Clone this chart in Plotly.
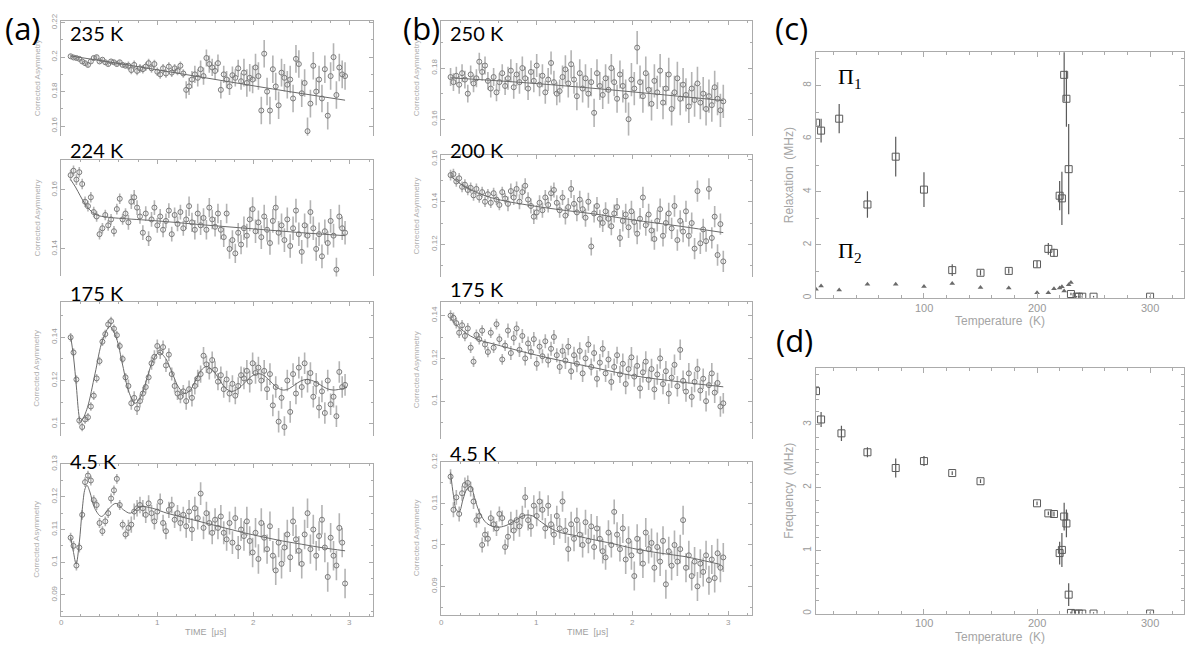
import plotly.graph_objects as go

# ---------------- data ----------------
TIME_US = [0.10, 0.13, 0.16, 0.19, 0.22, 0.25, 0.28, 0.31, 0.34, 0.37,
           0.40, 0.43, 0.46, 0.49, 0.52, 0.55, 0.58, 0.61, 0.64, 0.67,
           0.70, 0.73, 0.76, 0.79, 0.82, 0.85, 0.88, 0.91, 0.94, 0.97,
           1.00, 1.03, 1.06, 1.09, 1.12, 1.15, 1.18, 1.21, 1.24, 1.27,
           1.30, 1.33, 1.36, 1.39, 1.42, 1.45, 1.48, 1.51, 1.54, 1.57,
           1.60, 1.63, 1.66, 1.69, 1.72, 1.75, 1.78, 1.81, 1.84, 1.87,
           1.90, 1.93, 1.96, 1.99, 2.02, 2.05, 2.08, 2.11, 2.14, 2.17,
           2.20, 2.23, 2.26, 2.29, 2.32, 2.35, 2.38, 2.41, 2.44, 2.47,
           2.50, 2.53, 2.56, 2.59, 2.62, 2.65, 2.68, 2.71, 2.74, 2.77,
           2.80, 2.83, 2.86, 2.89, 2.92, 2.95]

A_235K = [0.2005, 0.1998, 0.1995, 0.1990, 0.1975, 0.1965, 0.1955, 0.1975, 0.1995, 0.2000,
          0.1975, 0.1985, 0.1970, 0.1960, 0.1975, 0.1970, 0.1960, 0.1970, 0.1955, 0.1950,
          0.1950, 0.1925, 0.1955, 0.1920, 0.1935, 0.1930, 0.1945, 0.1965, 0.1935, 0.1960,
          0.1915, 0.1900, 0.1935, 0.1905, 0.1945, 0.1910, 0.1935, 0.1920, 0.1950, 0.1905,
          0.1810, 0.1830, 0.1870, 0.1900, 0.1880, 0.1930, 0.1890, 0.1995, 0.1960, 0.1940,
          0.1920, 0.1965, 0.1810, 0.1900, 0.1870, 0.1830, 0.1895, 0.1880, 0.1935, 0.1860,
          0.1910, 0.1850, 0.1880, 0.1870, 0.1940, 0.1890, 0.1690, 0.2020, 0.1800, 0.1690,
          0.1930, 0.1830, 0.1720, 0.1910, 0.1880, 0.1840, 0.1870, 0.1760, 0.1990, 0.1960,
          0.1790, 0.1850, 0.1570, 0.1730, 0.1950, 0.1800, 0.1870, 0.1760, 0.1930, 0.1660,
          0.1890, 0.2000, 0.1780, 0.1940, 0.1900, 0.1890]
A_224K = [0.1650, 0.1665, 0.1635, 0.1660, 0.1620, 0.1560, 0.1545, 0.1575, 0.1525, 0.1510,
          0.1450, 0.1470, 0.1515, 0.1480, 0.1500, 0.1460, 0.1535, 0.1570, 0.1500, 0.1520,
          0.1490, 0.1560, 0.1575, 0.1540, 0.1510, 0.1455, 0.1520, 0.1435, 0.1500, 0.1540,
          0.1480, 0.1510, 0.1465, 0.1495, 0.1530, 0.1450, 0.1515, 0.1485, 0.1525, 0.1470,
          0.1500, 0.1545, 0.1490, 0.1465, 0.1520, 0.1480, 0.1505, 0.1465, 0.1540, 0.1500,
          0.1475, 0.1520, 0.1465, 0.1440, 0.1520, 0.1400, 0.1430, 0.1385, 0.1455, 0.1415,
          0.1470, 0.1445, 0.1500, 0.1535, 0.1460, 0.1490, 0.1440, 0.1510, 0.1465, 0.1420,
          0.1495, 0.1540, 0.1455, 0.1480, 0.1430, 0.1500, 0.1410, 0.1470, 0.1530, 0.1450,
          0.1390, 0.1480, 0.1445, 0.1525, 0.1470, 0.1400, 0.1450, 0.1375, 0.1460, 0.1420,
          0.1495, 0.1445, 0.1330, 0.1510, 0.1470, 0.1455]
A_175K = [0.1400, 0.1330, 0.1205, 0.1015, 0.0985, 0.1020, 0.1030, 0.1080, 0.1130, 0.1210,
          0.1290, 0.1380, 0.1415, 0.1460, 0.1475, 0.1440, 0.1410, 0.1360, 0.1300, 0.1215,
          0.1175, 0.1095, 0.1120, 0.1070, 0.1105, 0.1140, 0.1170, 0.1215, 0.1280, 0.1310,
          0.1360, 0.1330, 0.1355, 0.1270, 0.1320, 0.1230, 0.1175, 0.1140, 0.1125, 0.1150,
          0.1105, 0.1160, 0.1120, 0.1175, 0.1210, 0.1230, 0.1315, 0.1275, 0.1245, 0.1295,
          0.1250, 0.1195, 0.1225, 0.1160, 0.1205, 0.1140, 0.1185, 0.1130, 0.1175, 0.1225,
          0.1210, 0.1245, 0.1195, 0.1280, 0.1235, 0.1260, 0.1200, 0.1245, 0.1160, 0.1230,
          0.1085, 0.1170, 0.1010, 0.1120, 0.0985, 0.1200, 0.1055, 0.1230, 0.1140, 0.1260,
          0.1170, 0.1280, 0.1195, 0.1235, 0.1125, 0.1185, 0.1075, 0.1150, 0.1050, 0.1200,
          0.1090, 0.1125, 0.1035, 0.1240, 0.1170, 0.1180]
A_4K5 = [0.1075, 0.1050, 0.0990, 0.1045, 0.1145, 0.1245, 0.1265, 0.1250, 0.1190, 0.1175,
         0.1120, 0.1095, 0.1125, 0.1150, 0.1195, 0.1220, 0.1255, 0.1175, 0.1115, 0.1085,
         0.1105, 0.1115, 0.1155, 0.1165, 0.1175, 0.1165, 0.1145, 0.1180, 0.1150, 0.1125,
         0.1155, 0.1185, 0.1120, 0.1095, 0.1160, 0.1175, 0.1130, 0.1150, 0.1120, 0.1145,
         0.1110, 0.1155, 0.1100, 0.1165, 0.1135, 0.1210, 0.1105, 0.1150, 0.1120, 0.1090,
         0.1130, 0.1105, 0.1140, 0.1090, 0.1070, 0.1120, 0.1060, 0.1135, 0.1045, 0.1100,
         0.1080, 0.1125, 0.1065, 0.1030, 0.1090, 0.1010, 0.1120, 0.1075, 0.1040, 0.1110,
         0.1020, 0.0975, 0.1060, 0.0995, 0.1045, 0.1085, 0.1015, 0.1125, 0.1070, 0.1035,
         0.0995, 0.1085, 0.1150, 0.1040, 0.1100, 0.1020, 0.1080, 0.1130, 0.1045, 0.0955,
         0.1075, 0.1020, 0.0990, 0.1105, 0.1060, 0.0935]
B_250K = [0.1765, 0.1745, 0.1770, 0.1735, 0.1780, 0.1755, 0.1700, 0.1775, 0.1740, 0.1760,
          0.1825, 0.1785, 0.1810, 0.1750, 0.1720, 0.1765, 0.1705, 0.1745, 0.1780, 0.1730,
          0.1760, 0.1790, 0.1725, 0.1775, 0.1745, 0.1800, 0.1760, 0.1720, 0.1785, 0.1750,
          0.1810, 0.1735, 0.1770, 0.1705, 0.1755, 0.1820, 0.1745, 0.1700, 0.1710, 0.1765,
          0.1795, 0.1740, 0.1815, 0.1755, 0.1690, 0.1780, 0.1720, 0.1760, 0.1700, 0.1745,
          0.1625, 0.1780, 0.1730, 0.1695, 0.1760, 0.1715, 0.1800, 0.1745, 0.1680, 0.1775,
          0.1730, 0.1690, 0.1600, 0.1755, 0.1720, 0.1880, 0.1745, 0.1690, 0.1780, 0.1715,
          0.1660, 0.1750, 0.1705, 0.1790, 0.1665, 0.1720, 0.1775, 0.1640, 0.1705, 0.1760,
          0.1680, 0.1735, 0.1695, 0.1650, 0.1720, 0.1675, 0.1740, 0.1665, 0.1700, 0.1640,
          0.1690, 0.1655, 0.1725, 0.1680, 0.1635, 0.1670]
B_200K = [0.1525, 0.1530, 0.1495, 0.1510, 0.1470, 0.1480, 0.1455, 0.1465, 0.1430, 0.1460,
          0.1420, 0.1445, 0.1400, 0.1435, 0.1395, 0.1440, 0.1410, 0.1385, 0.1445, 0.1415,
          0.1390, 0.1450, 0.1420, 0.1460, 0.1400, 0.1445, 0.1475, 0.1410, 0.1380, 0.1330,
          0.1350, 0.1395, 0.1360, 0.1420, 0.1385, 0.1440, 0.1455, 0.1395, 0.1360, 0.1420,
          0.1335, 0.1375, 0.1460, 0.1390, 0.1350, 0.1410, 0.1365, 0.1325, 0.1400, 0.1190,
          0.1345, 0.1380, 0.1320, 0.1300, 0.1355, 0.1320, 0.1285, 0.1345, 0.1375, 0.1230,
          0.1310, 0.1340, 0.1280, 0.1355, 0.1305, 0.1250, 0.1320, 0.1420, 0.1290, 0.1340,
          0.1265, 0.1225, 0.1310, 0.1365, 0.1240, 0.1300, 0.1345, 0.1275, 0.1380, 0.1220,
          0.1310, 0.1260, 0.1355, 0.1240, 0.1300, 0.1180, 0.1450, 0.1205, 0.1270, 0.1215,
          0.1460, 0.1230, 0.1330, 0.1150, 0.1295, 0.1120]
B_175K = [0.1400, 0.1390, 0.1365, 0.1320, 0.1355, 0.1305, 0.1340, 0.1250, 0.1185, 0.1310,
          0.1290, 0.1330, 0.1265, 0.1230, 0.1320, 0.1250, 0.1360, 0.1290, 0.1195, 0.1260,
          0.1330, 0.1225, 0.1295, 0.1340, 0.1240, 0.1305, 0.1200, 0.1270, 0.1230, 0.1290,
          0.1175, 0.1255, 0.1210, 0.1280, 0.1190, 0.1245, 0.1300, 0.1215, 0.1160, 0.1235,
          0.1190, 0.1255, 0.1140, 0.1215, 0.1175, 0.1235, 0.1130, 0.1200, 0.1265, 0.1160,
          0.1225, 0.1105, 0.1180, 0.1245, 0.1130, 0.1195, 0.1090, 0.1160, 0.1215, 0.1125,
          0.1175, 0.1080, 0.1150, 0.1205, 0.1115, 0.1165, 0.1060, 0.1135, 0.1185, 0.1100,
          0.1150, 0.1055, 0.1125, 0.1200, 0.1080, 0.1140, 0.1035, 0.1110, 0.1170, 0.1070,
          0.1240, 0.1095, 0.1045, 0.1130, 0.1020, 0.1090, 0.1150, 0.1050, 0.1105, 0.1000,
          0.1075, 0.1130, 0.1040, 0.1085, 0.0975, 0.0990]
B_4K5 = [0.1165, 0.1085, 0.1115, 0.1075, 0.1125, 0.1145, 0.1150, 0.1135, 0.1105, 0.1060,
         0.1070, 0.1000, 0.1025, 0.1015, 0.1065, 0.1050, 0.1040, 0.1075, 0.1065, 0.0995,
         0.1020, 0.1055, 0.1035, 0.1060, 0.1045, 0.1070, 0.1115, 0.1060, 0.1045, 0.1095,
         0.1070, 0.1105, 0.1085, 0.1040, 0.1095, 0.1050, 0.1025, 0.1070, 0.1040, 0.1105,
         0.1035, 0.0990, 0.1050, 0.1015, 0.1060, 0.1025, 0.1000, 0.1055, 0.1010, 0.1045,
         0.0995, 0.1040, 0.1015, 0.0985, 0.0970, 0.1030, 0.1000, 0.1080, 0.1025, 0.0990,
         0.1040, 0.0965, 0.1010, 0.0975, 0.0925, 0.1015, 0.0985, 0.0955, 0.1030, 0.0990,
         0.1005, 0.0945, 0.0995, 0.0960, 0.1010, 0.0905, 0.0985, 0.0950, 0.1000, 0.0960,
         0.0990, 0.1060, 0.0945, 0.0975, 0.0925, 0.0960, 0.0900, 0.0955, 0.0935, 0.0975,
         0.0915, 0.0965, 0.0920, 0.0980, 0.0945, 0.0970]

# error-bar half-lengths, estimated per stretch of the time window
ERR_A_235K = [0.0012] * 20 + [0.0025] * 20 + [0.005] * 20 + [0.008] * 36
ERR_A_224K = [0.0018] * 20 + [0.0025] * 20 + [0.0033] * 20 + [0.0040] * 36
ERR_A_175K = [0.0020] * 20 + [0.0030] * 20 + [0.0040] * 20 + [0.0050] * 36
ERR_A_4K5 = [0.0015] * 20 + [0.0025] * 20 + [0.0035] * 20 + [0.0045] * 36
ERR_B_250K = [0.0035] * 20 + [0.0045] * 20 + [0.0055] * 20 + [0.0065] * 36
ERR_B_200K = [0.0025] * 20 + [0.0035] * 20 + [0.0042] * 20 + [0.0050] * 36
ERR_B_175K = [0.0025] * 20 + [0.0033] * 20 + [0.0040] * 20 + [0.0048] * 36
ERR_B_4K5 = [0.0018] * 20 + [0.0025] * 20 + [0.0030] * 20 + [0.0035] * 36

# fit curves
FIT_A_235K_T = [0.10, 0.8, 1.5, 2.2, 2.95]
FIT_A_235K = [0.2007, 0.1945, 0.1880, 0.1815, 0.1750]
FIT_A_224K_T = [0.10, 0.15, 0.20, 0.25, 0.30, 0.35, 0.40, 0.50, 0.60, 1.00, 1.50, 2.00, 2.50, 2.95]
FIT_A_224K = [0.1635, 0.1610, 0.1580, 0.1552, 0.1532, 0.1519, 0.1512, 0.1507, 0.1504, 0.1495,
              0.1481, 0.1468, 0.1455, 0.1445]
FIT_A_175K_T = [0.10, 0.13, 0.16, 0.185, 0.20, 0.22, 0.275, 0.353, 0.431, 0.509, 0.574, 0.64,
                0.705, 0.77, 0.8325, 0.895, 0.957, 1.02, 1.0875, 1.155, 1.2225, 1.29, 1.345,
                1.40, 1.455, 1.51, 1.575, 1.64, 1.705, 1.77, 1.84, 1.91, 1.98, 2.05, 2.115,
                2.18, 2.245, 2.31, 2.37, 2.43, 2.49, 2.55, 2.62, 2.69, 2.76, 2.83, 2.97]
FIT_A_175K = [0.1406, 0.1310, 0.1170, 0.1045, 0.1012, 0.1018, 0.1076, 0.1231, 0.1386, 0.1450,
              0.1398, 0.1272, 0.1147, 0.1095, 0.1129, 0.1213, 0.1296, 0.1330, 0.1302, 0.1235,
              0.1168, 0.1140, 0.1158, 0.1203, 0.1247, 0.1265, 0.1248, 0.1208, 0.1167, 0.1150,
              0.1162, 0.1191, 0.1220, 0.1232, 0.1221, 0.1194, 0.1167, 0.1156, 0.1163, 0.1181,
              0.1198, 0.1205, 0.1198, 0.1181, 0.1163, 0.1156, 0.1168]
FIT_A_4K5_T = [0.10, 0.13, 0.157, 0.19, 0.22, 0.25, 0.27, 0.30, 0.35, 0.42, 0.50, 0.57, 0.65,
               0.72, 0.82, 0.95, 1.10, 1.30, 1.50, 1.70, 1.90, 2.10, 2.30, 2.50, 2.70, 2.95]
FIT_A_4K5 = [0.1077, 0.1030, 0.0995, 0.1060, 0.1160, 0.1225, 0.1235, 0.1215, 0.1165, 0.1140,
             0.1165, 0.1180, 0.1160, 0.1150, 0.1170, 0.1165, 0.1150, 0.1135, 0.1120, 0.1105,
             0.1090, 0.1077, 0.1065, 0.1055, 0.1045, 0.1035]
FIT_B_250K_T = [0.10, 0.8, 1.5, 2.2, 2.95]
FIT_B_250K = [0.1762, 0.1745, 0.1724, 0.1700, 0.1673]
FIT_B_200K_T = [0.10, 0.2, 0.3, 0.45, 0.62, 0.9, 1.2, 1.66, 2.0, 2.5, 2.95]
FIT_B_200K = [0.1520, 0.1485, 0.1458, 0.1430, 0.1408, 0.1385, 0.1365, 0.1339, 0.1315, 0.1285, 0.1255]
FIT_B_175K_T = [0.10, 0.2, 0.35, 0.62, 1.0, 1.3, 1.66, 2.0, 2.5, 2.95]
FIT_B_175K = [0.1385, 0.1340, 0.1295, 0.1259, 0.1215, 0.1185, 0.1151, 0.1120, 0.1090, 0.1067]
FIT_B_4K5_T = [0.10, 0.13, 0.16, 0.19, 0.23, 0.27, 0.31, 0.35, 0.40, 0.48, 0.58, 0.68, 0.78,
               0.88, 0.96, 1.05, 1.15, 1.25, 1.40, 1.55, 1.80, 2.00, 2.30, 2.55, 2.75, 2.92]
FIT_B_4K5 = [0.1175, 0.1120, 0.1085, 0.1080, 0.1110, 0.1135, 0.1142, 0.1115, 0.1080, 0.1052,
             0.1043, 0.1047, 0.1060, 0.1072, 0.1070, 0.1055, 0.1040, 0.1030, 0.1023, 0.1015,
             0.1003, 0.0992, 0.0980, 0.0972, 0.0962, 0.0953]

# panel (c): relaxation rates
PI1_T = [4.5, 9, 25, 50, 75, 100, 125, 150, 175, 200, 210, 215, 220, 222, 224, 226, 228,
         230, 235, 237, 240, 250, 300]
PI1_RATE = [6.6, 6.3, 6.75, 3.52, 5.32, 4.08, 1.05, 0.95, 1.02, 1.27, 1.85, 1.70, 3.85, 3.75,
            8.4, 7.5, 4.85, 0.15, 0.05, 0.05, 0.05, 0.05, 0.05]
PI1_ERR = [0.1, 0.45, 0.55, 0.5, 0.75, 0.65, 0.22, 0.1, 0.1, 0.12, 0.22, 0.15, 0.55, 1.0,
           1.0, 1.05, 1.7, 0.05, 0.03, 0.03, 0.03, 0.03, 0.03]
PI2_T = [4.5, 9, 25, 50, 75, 100, 125, 150, 175, 200, 210, 215, 220, 222, 224, 228, 230]
PI2_RATE = [0.33, 0.45, 0.3, 0.52, 0.52, 0.43, 0.55, 0.4, 0.38, 0.2, 0.2, 0.35, 0.38, 0.42,
            0.26, 0.50, 0.58]

# panel (d): precession frequency
FREQ_T = [4.5, 9, 27, 50, 75, 100, 125, 150, 200, 210, 215, 220, 222, 224, 226, 228, 230,
          234, 237, 240, 250, 300]
FREQ_MHZ = [3.53, 3.08, 2.86, 2.56, 2.31, 2.42, 2.23, 2.10, 1.75, 1.59, 1.58, 0.96, 1.01,
            1.54, 1.43, 0.30, 0.01, 0.0, 0.0, 0.0, 0.0, 0.0]
FREQ_ERR = [0.05, 0.12, 0.12, 0.08, 0.15, 0.08, 0.03, 0.03, 0.03, 0.03, 0.04, 0.18, 0.27,
            0.22, 0.22, 0.18, 0.02, 0.02, 0.02, 0.02, 0.02, 0.02]

TIME_TICKS = [0, 1, 2, 3]
TEMP_TICKS = [100, 200, 300]

# ---------------- layout helpers ----------------
W, H = 1191, 647
def fx(px):
    return px / W
def fy(py):
    return 1 - py / H

AX = '#ababab'
TXT = '#9a9a9a'
FONT = 'Liberation Sans'

fig = go.Figure()
layout = {}
annotations = []

panels = [
    ('235 K', A_235K, ERR_A_235K, FIT_A_235K_T, FIT_A_235K, (61, 373), (11, 128), (0.1543, 0.2211), 0.02, 0.16, 0.01, False, (68, 23)),
    ('224 K', A_224K, ERR_A_224K, FIT_A_224K_T, FIT_A_224K, (61, 373), (153, 271), (0.1307, 0.1700), 0.02, 0.14, 0.01, False, (68, 142)),
    ('175 K', A_175K, ERR_A_175K, FIT_A_175K_T, FIT_A_175K, (61, 373), (297, 433), (0.0945, 0.1564), 0.02, 0.10, 0.01, False, (68, 288)),
    ('4.5 K', A_4K5, ERR_A_4K5, FIT_A_4K5_T, FIT_A_4K5, (61, 373), (462, 616), (0.0837, 0.1300), 0.01, 0.09, 0.005, True, (68, 459)),
    ('250 K', B_250K, ERR_B_250K, FIT_B_250K_T, FIT_B_250K, (441, 752), (11, 128), (0.1535, 0.1985), 0.02, 0.16, 0.01, False, (448, 23)),
    ('200 K', B_200K, ERR_B_200K, FIT_B_200K_T, FIT_B_200K, (441, 752), (148, 272), (0.1045, 0.1617), 0.02, 0.12, 0.01, False, (448, 142)),
    ('175 K', B_175K, ERR_B_175K, FIT_B_175K_T, FIT_B_175K, (441, 752), (297, 436), (0.0825, 0.1464), 0.02, 0.10, 0.01, False, (448, 284)),
    ('4.5 K', B_4K5, ERR_B_4K5, FIT_B_4K5_T, FIT_B_4K5, (441, 752), (460, 615), (0.0832, 0.1200), 0.01, 0.09, 0.005, True, (448, 451)),
]

for i, (lab, vals, err, ft, fv, xd, yd, yr, dt, t0, mn, bottom, lpos) in enumerate(panels, start=1):
    xa, ya = f'x{i}', f'y{i}'
    fig.add_trace(go.Scatter(
        x=TIME_US, y=vals, mode='markers', xaxis=xa, yaxis=ya,
        marker=dict(symbol='circle-open', size=5, color='#7a7a7a', line=dict(width=1)),
        error_y=dict(type='data', array=err, color='#b4b4b4', thickness=1.6, width=0),
        showlegend=False, hoverinfo='skip'))
    fig.add_trace(go.Scatter(
        x=ft, y=fv, mode='lines', xaxis=xa, yaxis=ya, line=dict(color='#6a6a6a', width=1, shape='spline'),
        showlegend=False, hoverinfo='skip'))
    xkey = 'xaxis' if i == 1 else f'xaxis{i}'
    ykey = 'yaxis' if i == 1 else f'yaxis{i}'
    xr = (0, 3.24) if xd[0] == 61 else (0, 3.25)
    xaxis = dict(domain=[fx(xd[0]), fx(xd[1])], range=list(xr), anchor=ya,
                 showline=True, linecolor=AX, linewidth=1, ticks='inside', ticklen=4, tickcolor=AX,
                 dtick=1, tick0=0, showgrid=False, zeroline=False, showticklabels=False,
                 minor=dict(ticks='inside', ticklen=2, dtick=0.2, tickcolor=AX, showgrid=False))
    if bottom:
        xaxis.update(side='bottom', mirror='allticks')
        for tv in TIME_TICKS:
            annotations.append(dict(x=tv, y=fy(623), xref=xa, yref='paper', text=str(tv),
                                    showarrow=False, font=dict(size=8, color=TXT, family=FONT)))
        annotations.append(dict(x=1.5 if xd[0] == 61 else 1.53, y=fy(633), xref=xa, yref='paper',
                                text='TIME  [μs]', showarrow=False,
                                font=dict(size=9, color='#a0a0a0', family=FONT)))
    else:
        xaxis.update(side='top', mirror=False)
    layout[xkey] = xaxis
    layout[ykey] = dict(domain=[fy(yd[1]), fy(yd[0])], range=list(yr), anchor=xa,
                        showline=True, linecolor=AX, linewidth=1, mirror='allticks',
                        ticks='inside', ticklen=4, tickcolor=AX, dtick=dt, tick0=t0,
                        minor=dict(ticks='inside', ticklen=2, dtick=mn, tickcolor=AX, showgrid=False),
                        tickangle=-90, showgrid=False, zeroline=False,
                        tickfont=dict(size=8, color=TXT, family=FONT))
    annotations.append(dict(x=fx(lpos[0]), y=fy(lpos[1]), xref='paper', yref='paper', text=lab,
                            showarrow=False, xanchor='left', yanchor='middle',
                            font=dict(size=20, color='black', family='Lato')))
    tx = 37 if xd[0] == 61 else 416
    annotations.append(dict(x=fx(tx), y=fy((yd[0] + yd[1]) / 2), xref='paper', yref='paper',
                            text='Corrected Asymmetry', textangle=-90, showarrow=False,
                            font=dict(size=8, color='#b0b0b0', family=FONT)))

# ---- panel (c)
fig.add_trace(go.Scatter(x=PI1_T, y=PI1_RATE, mode='markers', xaxis='x9', yaxis='y9',
                         marker=dict(symbol='square-open', size=7, color='#5a5a5a', line=dict(width=1)),
                         error_y=dict(type='data', array=PI1_ERR, color='#5a5a5a', thickness=1.2, width=0),
                         showlegend=False, hoverinfo='skip'))
fig.add_trace(go.Scatter(x=PI2_T, y=PI2_RATE, mode='markers', xaxis='x9', yaxis='y9',
                         marker=dict(symbol='triangle-up', size=5, color='#6a6a6a'),
                         showlegend=False, hoverinfo='skip'))
# ---- panel (d)
fig.add_trace(go.Scatter(x=FREQ_T, y=FREQ_MHZ, mode='markers', xaxis='x10', yaxis='y10',
                         marker=dict(symbol='square-open', size=7, color='#5a5a5a', line=dict(width=1)),
                         error_y=dict(type='data', array=FREQ_ERR, color='#5a5a5a', thickness=1.2, width=0),
                         showlegend=False, hoverinfo='skip'))

def t_axis(anchor):
    return dict(domain=[fx(816), fx(1184)], range=[4.5, 330], anchor=anchor,
                showline=True, linecolor=AX, linewidth=1, mirror='allticks', ticks='inside',
                ticklen=5, tickcolor=AX, dtick=100, tick0=0, showgrid=False, zeroline=False,
                showticklabels=False,
                minor=dict(ticks='inside', ticklen=3, dtick=20, tickcolor=AX, showgrid=False))

layout['xaxis9'] = t_axis('y9')
layout['yaxis9'] = dict(domain=[fy(293), fy(43)], range=[0, 9.25], anchor='x9',
                        showline=True, linecolor=AX, linewidth=1, mirror='allticks', ticks='inside',
                        ticklen=5, tickcolor=AX, dtick=2, tick0=0, tickangle=-90,
                        minor=dict(ticks='inside', ticklen=3, dtick=1, tickcolor=AX, showgrid=False),
                        showgrid=False, zeroline=False, tickfont=dict(size=10, color=TXT, family=FONT))
layout['xaxis10'] = t_axis('y10')
layout['yaxis10'] = dict(domain=[fy(614), fy(364)], range=[0, 3.9], anchor='x10',
                         showline=True, linecolor=AX, linewidth=1, mirror='allticks', ticks='inside',
                         ticklen=5, tickcolor=AX, dtick=1, tick0=0, tickangle=-90,
                         minor=dict(ticks='inside', ticklen=3, dtick=0.2, tickcolor=AX, showgrid=False),
                         showgrid=False, zeroline=False, tickfont=dict(size=10, color=TXT, family=FONT))

for xa, ypx in [('x9', 303), ('x10', 624)]:
    for tv in TEMP_TICKS:
        annotations.append(dict(x=tv, y=fy(ypx), xref=xa, yref='paper', text=str(tv),
                                showarrow=False, font=dict(size=11, color='#999999', family=FONT)))

for text, x, y, ang, size in [
        ('Relaxation  (MHz)', 789, 168, -90, 12),
        ('Frequency  (MHz)', 789, 489, -90, 12),
        ('Temperature  (K)', 1000, 316, 0, 12),
        ('Temperature  (K)', 1000, 638, 0, 12)]:
    annotations.append(dict(x=fx(x), y=fy(y), xref='paper', yref='paper', text=text,
                            textangle=ang, showarrow=False,
                            font=dict(size=size, color='#a5a5a5', family=FONT)))

for text, x, y in [('(a)', 23, 18), ('(b)', 421, 18), ('(c)', 792, 18), ('(d)', 794, 336)]:
    annotations.append(dict(x=fx(x), y=fy(y), xref='paper', yref='paper', text=text,
                            showarrow=False, font=dict(size=31, color='black', family='Open Sans')))

for text, y in [('Π<sub>1</sub>', 69), ('Π<sub>2</sub>', 246)]:
    annotations.append(dict(x=fx(836), y=fy(y), xref='paper', yref='paper', text=text,
                            showarrow=False, xanchor='left',
                            font=dict(size=22, color='black', family='Liberation Serif')))

for a in annotations:
    a.setdefault('xanchor', 'center')
    a.setdefault('yanchor', 'middle')

fig.update_layout(width=W, height=H, margin=dict(l=0, r=0, t=0, b=0),
                  paper_bgcolor='white', plot_bgcolor='white',
                  annotations=annotations, **layout)

fig.write_html('out.html', config={'displayModeBar': False},
               post_script="document.body.style.margin='0';")
